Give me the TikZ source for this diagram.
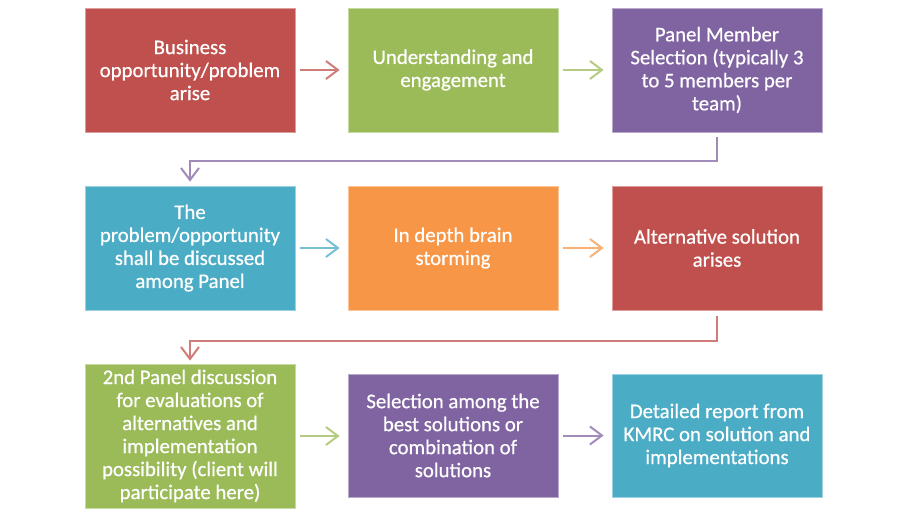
\documentclass[tikz,border=0pt]{standalone}
\usepackage{fontspec}
\setmainfont{Carlito}
\newfontfamily\boxfont[FakeBold=0.6]{Carlito}
\usetikzlibrary{arrows.meta}
\definecolor{cred}{HTML}{C0504D}
\definecolor{cgreen}{HTML}{9BBB59}
\definecolor{cpurple}{HTML}{8064A2}
\definecolor{ccyan}{HTML}{4BACC6}
\definecolor{corange}{HTML}{F79646}
\tikzset{
  x=1pt, y=1pt,
  stage/.style={rectangle, fill=#1, draw=#1!55!white, line width=0.8pt,
    minimum width=210pt, minimum height=124pt, text=white, align=center,
    inner sep=2pt,
    font=\boxfont\fontsize{20.8}{23}\selectfont},
  tall/.style={minimum height=144pt},
  link/.style={draw=#1!75!white, line width=2pt,
    -{Straight Barb[length=12pt, width=18pt, line width=2pt]},
    shorten <=5pt, shorten >=8pt},
}
\begin{document}
\begin{tikzpicture}
\useasboundingbox (0,0) rectangle (907,-515);
% first row
\node[stage=cred]    (a) at (190,-70) {Business\\opportunity/problem\\arise};
\node[stage=cgreen]  (b) at (453,-70) {Understanding and\\engagement};
\node[stage=cpurple] (c) at (717,-70) {Panel Member\\Selection (typically 3\\to 5 members per\\team)};
% second row
\node[stage=ccyan]   (d) at (190,-248) {The\\problem/opportunity\\shall be discussed\\among Panel};
\node[stage=corange] (e) at (453,-248) {In depth brain\\storming};
\node[stage=cred]    (f) at (717,-248) {Alternative solution\\arises};
% third row
\node[stage=cgreen, tall] (g) at (190,-436) {2nd Panel discussion\\for evaluations of\\alternatives and\\implementation\\possibility (client will\\participate here)};
\node[stage=cpurple, minimum height=123pt] (h) at (453,-435.5) {Selection among the\\best solutions or\\combination of\\solutions};
\node[stage=ccyan, minimum height=123pt]   (i) at (717,-435.5) {Detailed report from\\KMRC on solution and\\implementations};
% connectors within rows
\draw[link=cred]    (a) -- (b);
\draw[link=cgreen]  (b) -- (c);
\draw[link=ccyan]   (d) -- (e);
\draw[link=corange] (e) -- (f);
\draw[link=cgreen]  (g) -- (h.west |- g);
\draw[link=cpurple] (h) -- (i);
% connectors between rows
\draw[link=cpurple, shorten <=0pt, shorten >=0pt]
  ([yshift=-5pt]c.south) -- ++(0,-24) -| ([yshift=4pt]d.north);
\draw[link=cred, shorten <=0pt, shorten >=0pt]
  ([yshift=-6pt]f.south) -- ++(0,-25) -| ([yshift=3pt]g.north);
\end{tikzpicture}
\end{document}
